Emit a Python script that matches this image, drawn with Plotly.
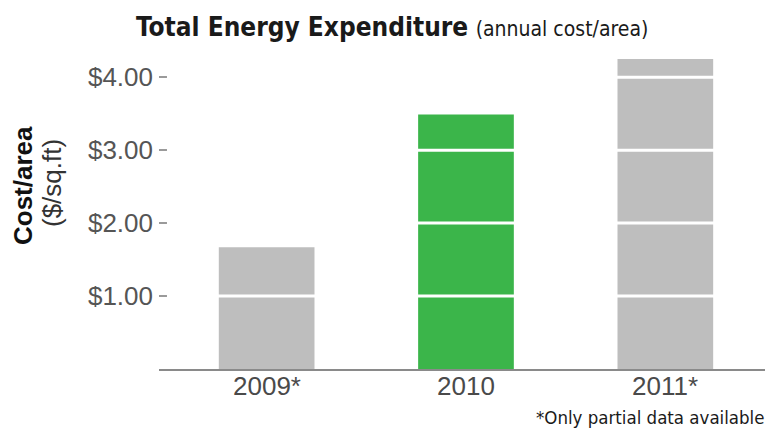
import plotly.graph_objects as go

# Annual energy cost per square foot
years = ["2009*", "2010", "2011*"]
cost_per_area = [1.67, 3.49, 4.25]
bar_colors = ["#bebebe", "#3bb54a", "#bebebe"]

# Y axis ticks
tick_vals = [1, 2, 3, 4]
tick_text = ["$1.00", "$2.00", "$3.00", "$4.00"]

W, H = 779, 429
M_L, M_R, M_T, M_B = 159, 14, 59, 60
plot_w = W - M_L - M_R
plot_h = H - M_T - M_B


def paper_y(px):
    """Convert a pixel row of the page to paper coordinates."""
    return (M_T + plot_h - px) / plot_h


def paper_x(px):
    return (px - M_L) / plot_w


SANS = "Liberation Sans, Arial, sans-serif"
NARROW = "DejaVu Sans Condensed, Arial Narrow, sans-serif"

fig = go.Figure(
    go.Bar(
        x=years,
        y=cost_per_area,
        marker=dict(color=bar_colors, line=dict(width=0)),
        hoverinfo="skip",
    )
)

# white rules drawn across the bars at each tick value
for v in tick_vals:
    fig.add_shape(
        type="line", xref="x", yref="y",
        x0=-0.5, x1=len(years) - 0.5, y0=v, y1=v,
        line=dict(color="white", width=3), layer="above",
    )

# category labels sit close under the baseline (placed by category index,
# since a label like "2010" would otherwise be read as a number)
year_labels = [
    dict(
        text=yr, xref="x", yref="paper", x=i, y=paper_y(386),
        xanchor="center", yanchor="middle", showarrow=False,
        font=dict(family=SANS, size=26, color="#4a4a4a"),
    )
    for i, yr in enumerate(years)
]

fig.update_layout(
    width=W, height=H,
    margin=dict(l=M_L, r=M_R, t=M_T, b=M_B),
    paper_bgcolor="white", plot_bgcolor="white",
    bargap=0.52,
    showlegend=False,
    title=dict(
        text="<b>Total Energy Expenditure</b> "
             "<span style='font-size:21px'>(annual cost/area)</span>",
        font=dict(family=NARROW, size=26, color="#1a1a1a"),
        xref="container", x=136 / W, xanchor="left",
        yref="container", y=1 - 27 / H, yanchor="middle",
    ),
    xaxis=dict(
        type="category",
        range=[-0.54, 2.5],
        showline=True, linecolor="#8a8a8a", linewidth=2,
        showgrid=False, zeroline=False, ticks="",
        showticklabels=False,
    ),
    yaxis=dict(
        range=[0, 4.25],
        showline=False, showgrid=False, zeroline=False,
        tickvals=tick_vals, ticktext=tick_text,
        ticks="inside", ticklen=8, tickwidth=1.5, tickcolor="#9a9a9a",
        ticklabelstandoff=5,
        tickfont=dict(family=SANS, size=26, color="#555555"),
    ),
    annotations=year_labels + [
        dict(
            text="<b>Cost/area</b>", textangle=-90,
            xref="paper", yref="paper",
            x=paper_x(23), y=paper_y(186),
            xanchor="center", yanchor="middle", showarrow=False,
            font=dict(family=SANS, size=26, color="#111111"),
        ),
        dict(
            text="($/sq.ft)", textangle=-90,
            xref="paper", yref="paper",
            x=paper_x(52), y=paper_y(183),
            xanchor="center", yanchor="middle", showarrow=False,
            font=dict(family=SANS, size=26, color="#333333"),
        ),
        dict(
            text="*Only partial data available",
            xref="paper", yref="paper",
            x=paper_x(767), y=paper_y(417),
            xanchor="right", yanchor="middle", showarrow=False,
            font=dict(family=NARROW, size=18.5, color="#1a1a1a"),
        ),
    ],
)

fig.write_html("out.html")
